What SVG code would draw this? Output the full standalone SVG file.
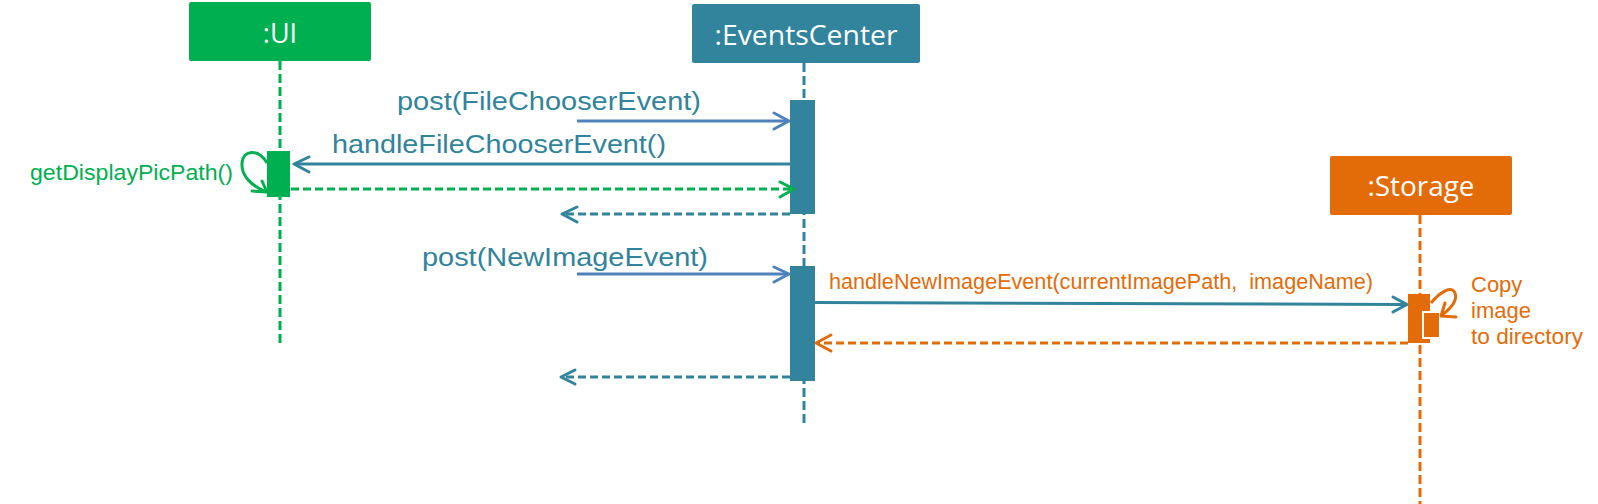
<svg xmlns="http://www.w3.org/2000/svg" width="1598" height="504" viewBox="0 0 1598 504">
<style>
.box-title{font-family:"Open Sans","Noto Sans",sans-serif;font-size:27px;fill:#ffffff;text-anchor:middle}
.lbl{font-family:"Liberation Sans",Arial,sans-serif;font-size:22px}
.big{font-size:25px}
.teal{fill:#31849B}
.green{fill:#00B050}
.orange{fill:#E36C09}
.life{fill:none;stroke-width:3;stroke-dasharray:9 4}
.msg{fill:none;stroke-width:3}
.ret{fill:none;stroke-width:3;stroke-dasharray:8 4}
.head{fill:none;stroke-width:3;stroke-linecap:round;stroke-linejoin:round}
</style>
<rect width="1598" height="504" fill="#ffffff"/>

<g id="ui">
  <rect x="189" y="2" width="182" height="59" rx="2" fill="#00B050"/>
  <text class="box-title" x="280" y="43">:UI</text>
  <line class="life" x1="280" y1="61" x2="280" y2="343" stroke="#00B050"/>
  <rect x="267" y="151" width="23" height="46" fill="#00B050"/>
  <text class="lbl green" x="30" y="180" font-size="21" textLength="203" lengthAdjust="spacingAndGlyphs">getDisplayPicPath()</text>
</g>

<g id="eventscenter">
  <rect x="692" y="4" width="228" height="59" rx="2" fill="#31849B"/>
  <text class="box-title" x="806" y="45" textLength="183" lengthAdjust="spacingAndGlyphs">:EventsCenter</text>
  <line class="life" x1="804" y1="63" x2="804" y2="425" stroke="#31849B"/>
  <rect x="790" y="100" width="25" height="114" fill="#31849B"/>
  <rect x="790" y="266" width="25" height="115" fill="#31849B"/>
</g>

<g id="storage">
  <rect x="1330" y="156" width="182" height="59" rx="2" fill="#E36C09"/>
  <text class="box-title" x="1421" y="196" textLength="107" lengthAdjust="spacingAndGlyphs">:Storage</text>
  <line class="life" x1="1420" y1="215" x2="1420" y2="504" stroke="#E36C09"/>
  <rect x="1408" y="294" width="22" height="49" fill="#E36C09"/>
  <rect x="1423" y="312" width="17" height="26" fill="#E36C09" stroke="#ffffff" stroke-width="2"/>
  <text class="lbl orange" x="1471" y="292">Copy</text>
  <text class="lbl orange" x="1471" y="318">image</text>
  <text class="lbl orange" x="1471" y="344" textLength="112" lengthAdjust="spacingAndGlyphs">to directory</text>
</g>

<g id="connectors">
  <!-- post(FileChooserEvent) -->
  <text class="lbl big teal" x="397" y="110" textLength="304" lengthAdjust="spacingAndGlyphs">post(FileChooserEvent)</text>
  <line class="msg" x1="577" y1="121" x2="788" y2="121" stroke="#4F81BD"/>
  <polyline class="head" points="774,113 789,121 774,129" stroke="#4F81BD"/>

  <!-- handleFileChooserEvent() -->
  <text class="lbl big teal" x="332" y="153" textLength="334" lengthAdjust="spacingAndGlyphs">handleFileChooserEvent()</text>
  <line class="msg" x1="790" y1="164" x2="295" y2="164" stroke="#31849B"/>
  <polyline class="head" points="309,157 294,164 309,172" stroke="#31849B"/>

  <!-- self call getDisplayPicPath -->
  <path class="msg" d="M267,163 C258,148 243,150 242,163 C241,176 252,186 266,192" stroke="#00B050"/>
  <polyline class="head" points="252,191 267,192 262,181" stroke="#00B050"/>

  <!-- green return -->
  <line class="ret" x1="291" y1="189" x2="792" y2="189" stroke="#00B050"/>
  <polyline class="head" points="780,182 794,189 780,197" stroke="#00B050"/>

  <!-- teal return 1 -->
  <line class="ret" x1="790" y1="214" x2="563" y2="214" stroke="#31849B"/>
  <polyline class="head" points="577,207 562,214 577,222" stroke="#31849B"/>

  <!-- post(NewImageEvent) -->
  <text class="lbl big teal" x="422" y="266" textLength="286" lengthAdjust="spacingAndGlyphs">post(NewImageEvent)</text>
  <line class="msg" x1="577" y1="274" x2="788" y2="274" stroke="#4F81BD"/>
  <polyline class="head" points="774,267 789,274 774,282" stroke="#4F81BD"/>

  <!-- handleNewImageEvent -->
  <text class="lbl orange" x="829" y="289" font-size="21.5" textLength="544" lengthAdjust="spacingAndGlyphs" xml:space="preserve" style="white-space:pre">handleNewImageEvent(currentImagePath,  imageName)</text>
  <line class="msg" x1="815" y1="302.5" x2="1406" y2="304.5" stroke="#31849B"/>
  <polyline class="head" points="1393,297 1407,304.5 1393,312" stroke="#31849B"/>

  <!-- storage self call -->
  <path class="msg" d="M1431,303 C1440,292 1452,285 1455,293 C1458,301 1450,309 1442,315" stroke="#E36C09"/>
  <polyline class="head" points="1456,317 1441,316 1445,303" stroke="#E36C09"/>

  <!-- orange return -->
  <line class="ret" x1="1408" y1="343" x2="818" y2="343" stroke="#E36C09"/>
  <polyline class="head" points="831,335 816,343 831,351" stroke="#E36C09"/>

  <!-- teal return 2 -->
  <line class="ret" x1="790" y1="377" x2="562" y2="377" stroke="#31849B"/>
  <polyline class="head" points="575,370 561,377 575,384" stroke="#31849B"/>
</g>
</svg>
